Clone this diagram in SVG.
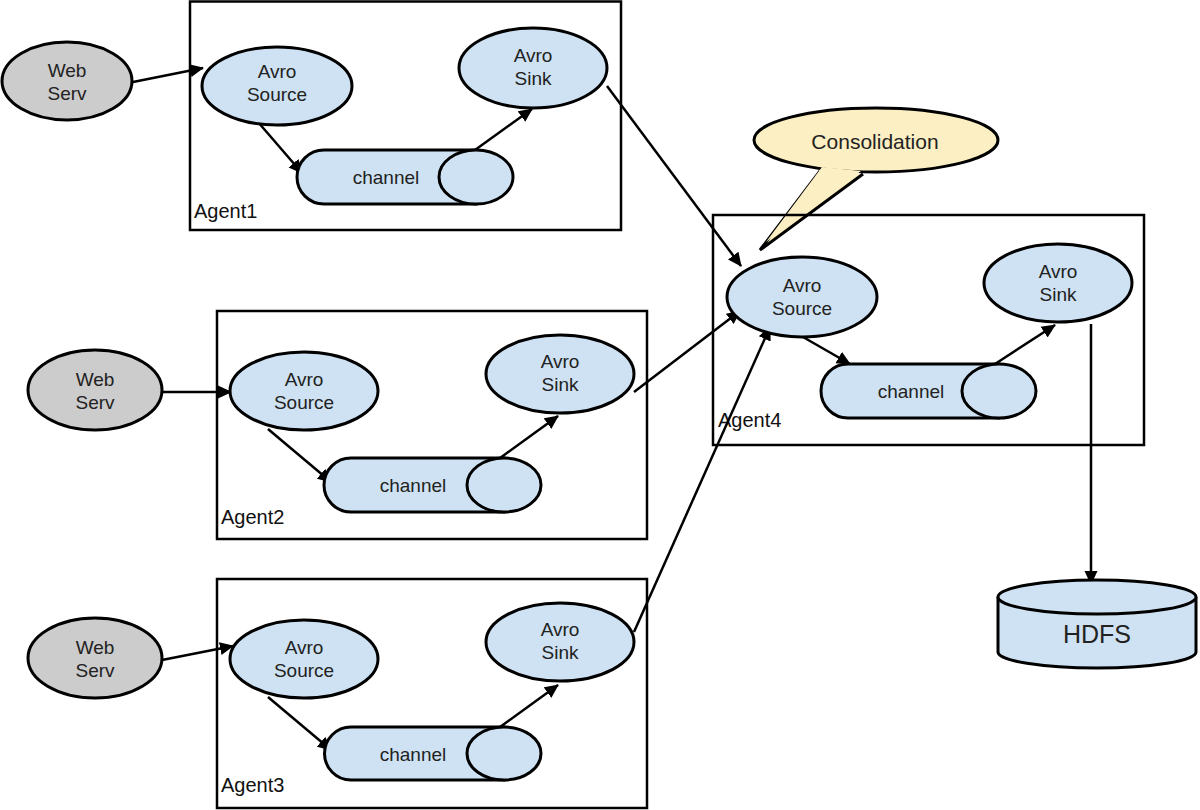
<svg xmlns="http://www.w3.org/2000/svg" width="1200" height="810" viewBox="0 0 1200 810">
<style>
.box{fill:none;stroke:#000;stroke-width:2.5}
.n{fill:#cfe2f3;stroke:#000;stroke-width:3}
.w{fill:#cccccc;stroke:#000;stroke-width:3}
.t{font-family:"Liberation Sans",Arial,sans-serif;font-size:19px;fill:#222;text-anchor:middle}
.lbl{font-family:"Liberation Sans",Arial,sans-serif;font-size:20px;fill:#111}
.c{fill:none;stroke:#000;stroke-width:2.5;marker-end:url(#ah)}
</style>
<defs>
<marker id="ah" viewBox="0 0 14 14" refX="13" refY="7" markerWidth="14" markerHeight="14" markerUnits="userSpaceOnUse" orient="auto">
<path d="M0,0.5 L14,7 L0,13.5 Z" fill="#000"/>
</marker>
</defs>
<rect width="1200" height="810" fill="#fff"/>

<g id="consolidation">
<path d="M820,171 L760,250 L863,174" fill="#fcefc3" stroke="#000" stroke-width="3" stroke-linejoin="miter"/>
<ellipse cx="876" cy="140" rx="122" ry="32" fill="#fcefc3" stroke="#000" stroke-width="3"/>
<path d="M822,167 L766,242 L861,171 Z" fill="#fcefc3"/>
<text class="t" x="875" y="149" style="font-size:21px">Consolidation</text>
</g>

<g id="agent1">
<rect class="box" x="190" y="1.5" width="431" height="228.5"/>
<text class="lbl" x="194" y="218">Agent1</text>
</g>
<g id="agent2">
<rect class="box" x="217" y="311" width="430" height="228"/>
<text class="lbl" x="221" y="524">Agent2</text>
</g>
<g id="agent3">
<rect class="box" x="217" y="579" width="430" height="229"/>
<text class="lbl" x="221" y="792">Agent3</text>
</g>
<g id="agent4">
<rect class="box" x="713" y="215" width="431" height="230"/>
<text class="lbl" x="718" y="427">Agent4</text>
</g>

<g id="connectors">
<line class="c" x1="133" y1="82" x2="203" y2="68"/>
<line class="c" x1="258" y1="122" x2="302" y2="173"/>
<line class="c" x1="475" y1="150" x2="532" y2="109"/>
<line class="c" x1="607" y1="86" x2="741" y2="266"/>
<line class="c" x1="162" y1="392" x2="231" y2="392"/>
<line class="c" x1="268" y1="429" x2="331" y2="482"/>
<line class="c" x1="500" y1="458" x2="558" y2="416"/>
<line class="c" x1="634" y1="392" x2="740" y2="311"/>
<line class="c" x1="162" y1="660" x2="233" y2="646"/>
<line class="c" x1="268" y1="697" x2="331" y2="750"/>
<line class="c" x1="500" y1="727" x2="558" y2="685"/>
<line class="c" x1="634" y1="632" x2="770" y2="327"/>
<line class="c" x1="803" y1="337" x2="850" y2="364"/>
<line class="c" x1="995" y1="364" x2="1055" y2="325"/>
<polyline class="c" points="1091,324 1091,584"/>
</g>

<g id="webserv1"><ellipse class="w" cx="67" cy="81" rx="65" ry="39"/><text class="t" x="67" y="77">Web</text><text class="t" x="67" y="100">Serv</text></g>
<g id="source1"><ellipse class="n" cx="277" cy="86" rx="75" ry="39"/><text class="t" x="277" y="78">Avro</text><text class="t" x="277" y="101">Source</text></g>
<g id="sink1"><ellipse class="n" cx="533" cy="68" rx="74" ry="40"/><text class="t" x="533" y="62">Avro</text><text class="t" x="533" y="85">Sink</text></g>
<g id="channel1"><path class="n" d="M324,150 H476 V204 H324 A27,27 0 0 1 324,150 Z"/><ellipse class="n" cx="476" cy="177" rx="37" ry="27"/><text class="t" x="386" y="184">channel</text></g>

<g id="webserv2"><ellipse class="w" cx="95" cy="390" rx="67" ry="40"/><text class="t" x="95" y="386">Web</text><text class="t" x="95" y="409">Serv</text></g>
<g id="source2"><ellipse class="n" cx="304" cy="391" rx="74" ry="39"/><text class="t" x="304" y="386">Avro</text><text class="t" x="304" y="409">Source</text></g>
<g id="sink2"><ellipse class="n" cx="560" cy="374" rx="74" ry="39"/><text class="t" x="560" y="368">Avro</text><text class="t" x="560" y="391">Sink</text></g>
<g id="channel2"><path class="n" d="M351,458 H504 V512 H351 A27,27 0 0 1 351,458 Z"/><ellipse class="n" cx="504" cy="485" rx="37" ry="27"/><text class="t" x="413" y="492">channel</text></g>

<g id="webserv3"><ellipse class="w" cx="95" cy="658" rx="67" ry="40"/><text class="t" x="95" y="654">Web</text><text class="t" x="95" y="677">Serv</text></g>
<g id="source3"><ellipse class="n" cx="304" cy="659" rx="74" ry="39"/><text class="t" x="304" y="654">Avro</text><text class="t" x="304" y="677">Source</text></g>
<g id="sink3"><ellipse class="n" cx="560" cy="642" rx="74" ry="39"/><text class="t" x="560" y="636">Avro</text><text class="t" x="560" y="659">Sink</text></g>
<g id="channel3"><path class="n" d="M351,727 H504 V780 H351 A26.5,26.5 0 0 1 351,727 Z"/><ellipse class="n" cx="504" cy="753.5" rx="37" ry="26.5"/><text class="t" x="413" y="761">channel</text></g>

<g id="source4"><ellipse class="n" cx="802" cy="297" rx="75" ry="40"/><text class="t" x="802" y="292">Avro</text><text class="t" x="802" y="315">Source</text></g>
<g id="sink4"><ellipse class="n" cx="1058" cy="283" rx="74" ry="39"/><text class="t" x="1058" y="278">Avro</text><text class="t" x="1058" y="301">Sink</text></g>
<g id="channel4"><path class="n" d="M848,364 H999 V418 H848 A27,27 0 0 1 848,364 Z"/><ellipse class="n" cx="999" cy="391" rx="37" ry="27"/><text class="t" x="911" y="398">channel</text></g>

<g id="hdfs">
<path class="n" d="M998,597 V652 A99,16 0 0 0 1196,652 V597"/>
<ellipse class="n" cx="1097" cy="597" rx="99" ry="17"/>
<text class="t" x="1097" y="643" style="font-size:25px">HDFS</text>
</g>
</svg>
